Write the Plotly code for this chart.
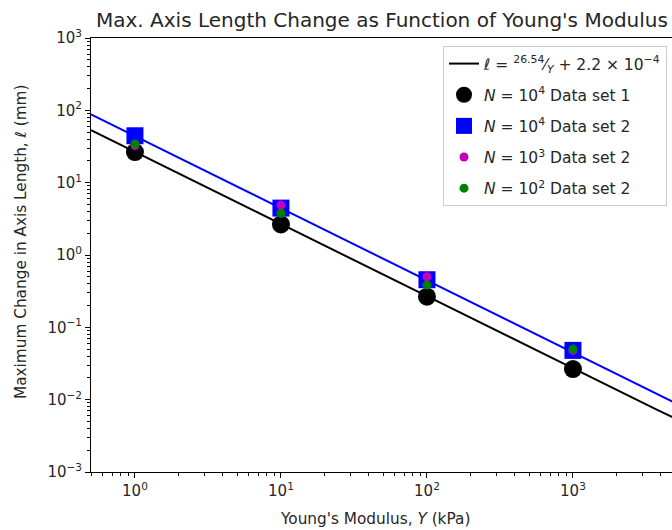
import numpy as np
import plotly.graph_objects as go

# ---- data ----
modulus = [1, 10, 100, 1000]                 # Young's modulus (kPa)
set1_n1e4 = [26.5, 2.65, 0.265, 0.0265]      # N=10^4 data set 1
set2_n1e4 = [44.5, 4.45, 0.455, 0.048]       # N=10^4 data set 2
set2_n1e3 = [32.5, 4.9, 0.50, 0.048]         # N=10^3 data set 2
set2_n1e2 = [34.3, 3.77, 0.385, 0.050]       # N=10^2 data set 2

fit1_a, fit1_b = 26.54, 2.2e-4               # black fit (from legend)
fit2_a, fit2_b = 44.0, 2.2e-4                # blue fit (estimated)
fit_x = list(np.logspace(np.log10(0.5), np.log10(5000), 60))

x_tickvals = [1, 10, 100, 1000]
x_ticktext = ["10<sup>0</sup>", "10<sup>1</sup>", "10<sup>2</sup>", "10<sup>3</sup>"]
y_tickvals = [1e-3, 1e-2, 1e-1, 1, 10, 100, 1000]
y_ticktext = ["10<sup>\u22123</sup>", "10<sup>\u22122</sup>", "10<sup>\u22121</sup>",
              "10<sup>0</sup>", "10<sup>1</sup>", "10<sup>2</sup>", "10<sup>3</sup>"]

x_minor = [m * 10.0 ** k for k in range(-1, 4) for m in range(2, 10)]
y_minor = [m * 10.0 ** k for k in range(-3, 3) for m in range(2, 10)]

FONT = "DejaVu Sans"
TXT = "#262626"
TICK_SIZE = 15
LABEL_SIZE = 15.3
TITLE_SIZE = 20
LEGEND_SIZE = 15.5

fig = go.Figure()

fig.add_trace(go.Scatter(
    x=fit_x, y=[fit1_a / v + fit1_b for v in fit_x], mode="lines",
    line=dict(color="black", width=2),
    name="<i>\u2113</i> = <sup>26.54</sup>\u2044<sub><i>Y</i></sub> + 2.2 \u00d7 10<sup>\u22124</sup>",
    legendgroup="g0"))
fig.add_trace(go.Scatter(
    x=fit_x, y=[fit2_a / v + fit2_b for v in fit_x], mode="lines",
    line=dict(color="blue", width=2), showlegend=False, legendgroup="g00"))
fig.add_trace(go.Scatter(
    x=modulus, y=set1_n1e4, mode="markers",
    marker=dict(symbol="circle", size=18, color="black"),
    name="<i>N</i> = 10<sup>4</sup> Data set 1", legendgroup="g1"))
fig.add_trace(go.Scatter(
    x=modulus, y=set2_n1e4, mode="markers",
    marker=dict(symbol="square", size=17, color="blue"),
    name="<i>N</i> = 10<sup>4</sup> Data set 2", legendgroup="g2"))
fig.add_trace(go.Scatter(
    x=modulus, y=set2_n1e3, mode="markers",
    marker=dict(symbol="circle", size=9, color="#bf00bf"),
    name="<i>N</i> = 10<sup>3</sup> Data set 2", legendgroup="g3"))
fig.add_trace(go.Scatter(
    x=modulus, y=set2_n1e2, mode="markers",
    marker=dict(symbol="circle", size=9, color="green"),
    name="<i>N</i> = 10<sup>2</sup> Data set 2", legendgroup="g4"))

W, H = 672, 530
L, T, B = 91, 38, 58
x_lo = np.log10(0.5)
x_hi = x_lo + (W - L) / 146.0

fig.update_xaxes(
    type="log", range=[x_lo, x_hi],
    tickmode="array", tickvals=x_tickvals, ticktext=x_ticktext,
    ticks="outside", ticklen=5, tickwidth=1, tickcolor="black",
    showline=True, linecolor="black", linewidth=1, mirror=True,
    showgrid=False, zeroline=False,
    tickfont=dict(family=FONT, size=TICK_SIZE, color=TXT),
    minor=dict(tickmode="array", tickvals=x_minor, ticks="outside",
               ticklen=3, tickwidth=1, tickcolor="black", showgrid=False),
)
fig.update_yaxes(
    type="log", range=[-3, 3],
    tickmode="array", tickvals=y_tickvals, ticktext=y_ticktext,
    ticks="outside", ticklen=5, tickwidth=1, tickcolor="black",
    showline=True, linecolor="black", linewidth=1, mirror=False,
    showgrid=False, zeroline=False,
    tickfont=dict(family=FONT, size=TICK_SIZE, color=TXT),
    minor=dict(tickmode="array", tickvals=y_minor, ticks="outside",
               ticklen=3, tickwidth=1, tickcolor="black", showgrid=False),
)

pw, ph = W - L, H - T - B


def px(X):
    return (X - L) / pw


def py(Y):
    return (H - B - Y) / ph


fig.add_annotation(text="Max. Axis Length Change as Function of Young's Modulus",
                   x=px(382), y=py(20), xref="paper", yref="paper",
                   showarrow=False, xanchor="center", yanchor="middle",
                   font=dict(family=FONT, size=TITLE_SIZE, color=TXT))
fig.add_annotation(text="Young's Modulus, <i>Y</i> (kPa)",
                   x=px(375), y=py(519), xref="paper", yref="paper",
                   showarrow=False, xanchor="center", yanchor="middle",
                   font=dict(family=FONT, size=LABEL_SIZE, color=TXT))
fig.add_annotation(text="Maximum Change in Axis Length, <i>\u2113</i> (mm)",
                   x=px(21), y=py(242), xref="paper", yref="paper", textangle=-90,
                   showarrow=False, xanchor="center", yanchor="middle",
                   font=dict(family=FONT, size=LABEL_SIZE, color=TXT))

fig.update_layout(
    width=W, height=H,
    margin=dict(l=L, r=0, t=T, b=B, pad=0),
    paper_bgcolor="white", plot_bgcolor="white",
    font=dict(family=FONT, color=TXT),
    legend=dict(x=px(667), y=py(46), xanchor="right", yanchor="top",
                bgcolor="rgba(255,255,255,0.85)", bordercolor="#cccccc", borderwidth=1,
                font=dict(family=FONT, size=LEGEND_SIZE, color=TXT),
                traceorder="grouped", tracegroupgap=8, itemwidth=30),
    showlegend=True,
)

fig.write_html("out.html")
